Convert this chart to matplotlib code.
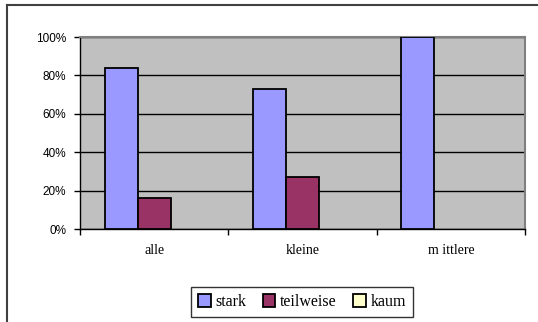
import matplotlib.pyplot as plt
from matplotlib.lines import Line2D
import numpy as np

categories = ['alle', 'kleine', 'm ittlere']
series_names = ['stark', 'teilweise', 'kaum']
stark = [84, 73, 100]
teilweise = [16, 27, 0]
kaum = [0, 0, 0]
colors = ['#9999FF', '#993366', '#FFFFCC']
y_ticks = [0, 20, 40, 60, 80, 100]


def main():
    fig = plt.figure(figsize=(5.38, 3.22), dpi=100)
    ax = fig.add_axes([80 / 538, 93 / 322, 445 / 538, 192 / 322])
    ax.set_facecolor('#C0C0C0')

    x = np.arange(len(categories))
    width = 0.2225
    values = [stark, teilweise, kaum]
    for i, (name, vals) in enumerate(zip(series_names, values)):
        lws = [1.3 if v > 0 else 0 for v in vals]
        ax.bar(x + (i - 1) * width, vals, width, color=colors[i],
               edgecolor='black', linewidth=lws, zorder=3)
        # legend handle
        ax.bar([0], [0], 0, color=colors[i], edgecolor='black',
               linewidth=1.3, label=name)

    ax.set_xlim(-0.5, len(categories) - 0.5)
    ax.set_ylim(0, 100)
    ax.set_yticks(y_ticks)
    ax.set_yticklabels(['%d%%' % v for v in y_ticks],
                       fontfamily='Liberation Sans', fontsize=8.5)
    ax.set_xticks(x)
    ax.set_xticklabels(categories, fontfamily='Liberation Serif', fontsize=10)
    ax.tick_params(axis='x', which='major', length=0, pad=11)
    ax.set_xticks(np.arange(len(categories) + 1) - 0.5, minor=True)
    ax.tick_params(axis='x', which='minor', length=4, width=1)
    ax.tick_params(axis='y', length=4, width=1, pad=6)

    ax.grid(axis='y', color='black', linewidth=1, zorder=1)
    ax.set_axisbelow(True)
    for side in ['top', 'right']:
        ax.spines[side].set_color('#808080')
        ax.spines[side].set_linewidth(1.5)
    for side in ['left', 'bottom']:
        ax.spines[side].set_color('black')
        ax.spines[side].set_linewidth(1)

    leg = fig.legend(loc='center', bbox_to_anchor=(302 / 538, 1 - 302 / 322),
                     ncol=3, frameon=True, fancybox=False, handlelength=0.8,
                     handleheight=0.8, handletextpad=0.3, columnspacing=1.0,
                     prop={'family': 'Liberation Serif', 'size': 11.5},
                     borderpad=0.45)
    leg.get_frame().set_edgecolor('black')
    leg.get_frame().set_linewidth(1)

    fig.add_artist(Line2D([7 / 538, 7 / 538], [0, 1 - 5 / 322],
                          color='#404040', linewidth=1.5))
    fig.add_artist(Line2D([7 / 538, 1], [1 - 5 / 322, 1 - 5 / 322],
                          color='#404040', linewidth=1.5))

    fig.savefig('out.png', dpi=100)


if __name__ == '__main__':
    main()
